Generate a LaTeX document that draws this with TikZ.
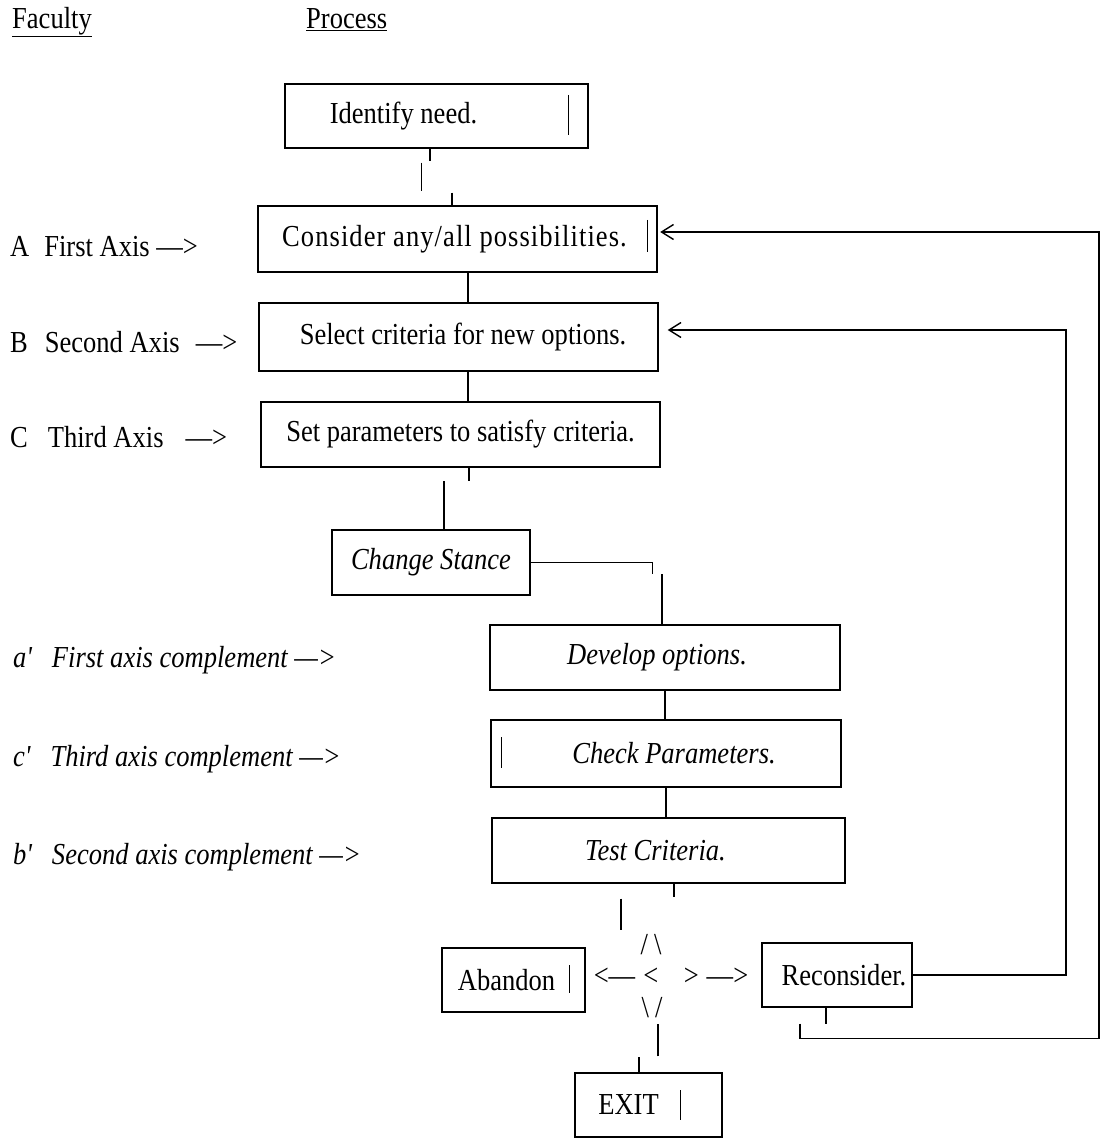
\documentclass[tikz,border=0pt]{standalone}
\usepackage{fontspec}
\setmainfont{Liberation Serif}[FakeStretch=0.87]
\usetikzlibrary{arrows.meta}
\newcommand\dsize{\fontsize{30.5}{34}\selectfont}
\begin{document}
\begin{tikzpicture}[x=1pt,y=-1pt,
  every node/.style={font=\dsize, inner sep=0pt},
  stepbox/.style={draw, line width=1.4pt, rectangle, minimum height=65pt},
  itbox/.style={stepbox, font=\dsize\itshape},
  sidelabel/.style={anchor=west},
  itlabel/.style={anchor=west, font=\dsize\itshape},
  conn/.style={line width=1.4pt},
  inbar/.style={line width=1.4pt},
  fb/.style={line width=1.4pt, -{Straight Barb[length=12pt,width=15pt]}},
]
\fill[white] (0,0) rectangle (1100,1139);
\useasboundingbox (0,0) rectangle (1100,1139);

% column headings
\node[anchor=west] (hfac) at (12,22) {\underline{Faculty}};
\node[anchor=west] (hpro) at (306,20) {\underline{Process}};

% process steps
\node[stepbox, minimum width=303pt, minimum height=64pt] (idn) at (436.5,116) {Identify need.\kern66pt};
\node[stepbox, minimum width=399pt, minimum height=66pt] (con) at (457.5,239) {\addfontfeatures{LetterSpace=3.5}Consider any/all possibilities.\kern6pt};
\node[stepbox, minimum width=399pt, minimum height=68pt] (sel) at (458.5,337) {\kern9pt Select criteria for new options.};
\node[stepbox, minimum width=399pt, minimum height=65pt] (set) at (460.5,434.5) {Set parameters to satisfy criteria.};
\node[itbox, minimum width=198pt] (chg) at (431,562.5) {Change Stance};
\node[itbox, minimum width=350pt] (dev) at (665,657.5) {Develop options.\kern16pt};
\node[itbox, minimum width=350pt, minimum height=67pt] (chk) at (666,753.5) {\kern16pt Check Parameters.};
\node[itbox, minimum width=353pt] (tst) at (668.5,850.5) {Test Criteria.\kern26pt};
\node[stepbox, minimum width=143pt, minimum height=64pt] (abd) at (513.5,980) {Abandon\kern14pt};
\node[stepbox, minimum width=150pt, minimum height=64pt] (rec) at (837,975) {\kern14pt Reconsider.};
\node[stepbox, minimum width=147pt, minimum height=64pt] (exit) at (648.5,1105) {EXIT\kern40pt};

% typed decision sign
\node (dtop) at (651,945) {/\kern6pt\textbackslash};
\node (dbot) at (652,1008) {\textbackslash\kern6pt/};
\node (dleft) at (626,977) {<—\kern8pt<};
\node (dright) at (716,977) {>\kern8pt—>};

% faculty labels
\node[sidelabel] (lblA) at (10,247) {A\kern15pt First Axis —>};
\node[sidelabel] (lblB) at (10,342) {B\kern17pt Second Axis\kern16pt—>};
\node[sidelabel] (lblC) at (10,437) {C\kern20pt Third Axis\kern22pt—>};
\node[itlabel] (lbla) at (13,660) {a\textquotesingle\kern19pt First axis complement —>};
\node[itlabel] (lblc) at (13,759) {c\textquotesingle\kern19pt Third axis complement —>};
\node[itlabel] (lblb) at (13,857) {b\textquotesingle\kern19pt Second axis complement —>};

% typed bars inside boxes
\draw[inbar] ([xshift=-20pt,yshift=21pt]idn.east) -- ([xshift=-20pt,yshift=-19pt]idn.east);
\draw[inbar] ([xshift=-10.5pt,yshift=19pt]con.east) -- ([xshift=-10.5pt,yshift=-13pt]con.east);
\draw[inbar] ([xshift=11pt,yshift=16.5pt]chk.west) -- ([xshift=11pt,yshift=-14.5pt]chk.west);
\draw[inbar] ([xshift=-16pt,yshift=15pt]abd.east) -- ([xshift=-16pt,yshift=-13pt]abd.east);
\draw[inbar] ([xshift=-42pt,yshift=15pt]exit.east) -- ([xshift=-42pt,yshift=-15pt]exit.east);

% main flow
\draw[conn] ([xshift=-6.5pt]idn.south) -- ++(0,12) ++(-8.5,2) -- ++(0,28) ++(30.5,2) -- ([xshift=-5.5pt]con.north);
\draw[conn] ([xshift=10.5pt]con.south) -- ([xshift=10.5pt]con.south |- sel.north);
\draw[conn] ([xshift=9.5pt]sel.south) -- ([xshift=9.5pt]sel.south |- set.north);
\draw[conn] ([xshift=8.5pt]set.south) -- ++(0,13);
\draw[conn] ([xshift=13pt]chg.north) -- ++(0,-48);
\draw[conn] (chg.east) -- ++(122,0) -- ++(0,11);
\draw[conn] ([xshift=-3pt]dev.north) -- ++(0,-50);
\draw[conn] (dev.south) -- (dev.south |- chk.north);
\draw[conn] (chk.south) -- (chk.south |- tst.north);
\draw[conn] ([xshift=5.5pt]tst.south) -- ++(0,13) ++(-53,2) -- ++(0,31);
\draw[conn] ([xshift=-9.5pt]exit.north) -- ++(0,-15) ++(19,-1) -- ++(0,-32);

% feedback loops
\coordinate (fbA) at (1066,330);
\coordinate (fbB) at (1099,232);
\draw[fb] (rec.east) -| (fbA) |- ([xshift=9pt,yshift=7pt]sel.east);
\draw[fb] ([xshift=-11pt]rec.south) -- ++(0,16) ++(-26,0) -- ++(0,15) -| (fbB) |- ([xshift=2.5pt,yshift=7pt]con.east);
\end{tikzpicture}
\end{document}
